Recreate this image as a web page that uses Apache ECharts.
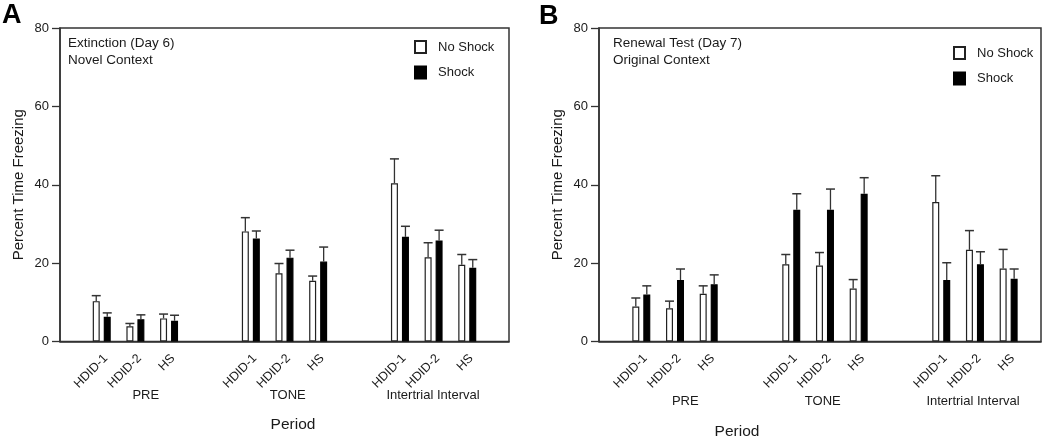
<!DOCTYPE html>
<html>
<head>
<meta charset="utf-8">
<script src="https://cdn.jsdelivr.net/npm/echarts@6/dist/echarts.min.js"></script>
<style>
html,body{margin:0;padding:0;background:#fff;}
#chart{width:1050px;height:441px;}
</style>
</head>
<body>
<div id="chart"></div>
<script>
// ---- data ----
const subgroups = ['HDID-1', 'HDID-2', 'HS'];
const periods = ['PRE', 'TONE', 'Intertrial Interval'];
const seriesNames = ['No Shock', 'Shock'];
const yTicks = [0, 20, 40, 60, 80];

// Panel A: Extinction (Day 6), Novel Context  (order: PRE x3, TONE x3, ITI x3)
const noShockA = [10.3, 3.9, 5.9, 28.1, 17.4, 15.5, 40.4, 21.5, 19.6];
const noShockA_sem = [1.4, 0.7, 1.1, 3.5, 2.5, 1.2, 6.2, 3.7, 2.6];
const shockA = [6.3, 5.7, 5.3, 26.3, 21.4, 20.4, 26.7, 25.8, 18.8];
const shockA_sem = [1.0, 1.1, 1.4, 1.9, 1.9, 3.7, 2.7, 2.6, 2.1];

// Panel B: Renewal Test (Day 7), Original Context
const noShockB = [8.9, 8.5, 12.2, 19.7, 19.4, 13.5, 35.6, 23.4, 18.6];
const noShockB_sem = [2.2, 1.8, 2.0, 2.5, 3.3, 2.3, 6.7, 4.9, 4.9];
const shockB = [12.0, 15.7, 14.6, 33.6, 33.6, 37.7, 15.7, 19.7, 16.0];
const shockB_sem = [2.2, 2.8, 2.4, 4.1, 5.3, 4.1, 4.4, 3.2, 2.5];

const titleA = ['Extinction (Day 6)', 'Novel Context'];
const titleB = ['Renewal Test (Day 7)', 'Original Context'];

// ---- layout ----
const FONT = '"Liberation Sans", Arial, sans-serif';
const INK = '#1a1a1a';
const LINE = '#333';
const BAR_W = 7;
const HALF_OFF = 5.5; // px offset of each bar center from the pair center

const panels = [
  {grid: {left: 60, right: 541, top: 28, bottom: 99.5}, step: 4.43, min: -1.24, max: 12.1,
   noShock: noShockA, noSem: noShockA_sem, shock: shockA, shSem: shockA_sem,
   title: titleA, letter: 'A', letterX: 2, letterY: 2, titleX: 68, legendX: 414, legendY: 40,
   periodX: [145.8, 287.8, 433], periodY: 395, axisTitleX: 293, axisTitleY: 425},
  {grid: {left: 599, right: 9, top: 28, bottom: 99.5}, step: 4.45, min: -1.255, max: 11.86,
   noShock: noShockB, noSem: noShockB_sem, shock: shockB, shSem: shockB_sem,
   title: titleB, letter: 'B', letterX: 539, letterY: 3, titleX: 613, legendX: 953, legendY: 46,
   periodX: [685.3, 822.8, 973], periodY: 401.7, axisTitleX: 737, axisTitleY: 432}
];

function xPos(p, i) {
  const g = Math.floor(i / 3), s = i % 3;
  return g * p.step + s;
}

const chart = echarts.init(document.getElementById('chart'), null, {renderer: 'canvas'});

const grids = [], xAxes = [], yAxes = [], series = [], legends = [];

panels.forEach((p, k) => {
  grids.push(Object.assign({show: true, borderColor: LINE, borderWidth: 1.5, backgroundColor: '#fff'}, p.grid));
  xAxes.push({
    type: 'value', gridIndex: k, min: p.min, max: p.max,
    axisLine: {show: true, onZero: false, lineStyle: {color: LINE, width: 1.5}},
    axisTick: {show: false}, axisLabel: {show: false}, splitLine: {show: false}
  });
  yAxes.push({
    type: 'value', gridIndex: k, min: yTicks[0], max: yTicks[yTicks.length - 1], interval: 20,
    name: 'Percent Time Freezing', nameLocation: 'middle', nameGap: 34,
    nameTextStyle: {fontFamily: FONT, fontSize: 15, color: INK},
    axisLine: {show: true, onZero: false, lineStyle: {color: LINE, width: 1.5}},
    axisTick: {show: true, inside: false, length: 8, lineStyle: {color: LINE, width: 1.3}},
    axisLabel: {margin: 11, fontFamily: FONT, fontSize: 13, color: INK},
    splitLine: {show: false}
  });
  const mk = (vals) => vals.map((v, i) => [xPos(p, i), v]);
  series.push({
    name: seriesNames[0], type: 'bar', xAxisIndex: k, yAxisIndex: k,
    data: mk(p.noShock), barWidth: BAR_W, barGap: '57%',
    itemStyle: {color: '#fff', borderColor: '#222', borderWidth: 1.2},
    emphasis: {disabled: true}, z: 2
  });
  series.push({
    name: seriesNames[1], type: 'bar', xAxisIndex: k, yAxisIndex: k,
    data: mk(p.shock), barWidth: BAR_W, barGap: '57%',
    itemStyle: {color: '#000', borderColor: '#000', borderWidth: 1.2},
    emphasis: {disabled: true}, z: 2
  });
  [[p.noShock, p.noSem, -1], [p.shock, p.shSem, 1]].forEach(([vals, sem, dir]) => {
    series.push({
      type: 'custom', xAxisIndex: k, yAxisIndex: k, z: 3, silent: true,
      data: vals.map((v, i) => [xPos(p, i), v, v + sem[i]]),
      encode: {x: 0, y: [1, 2]},
      renderItem: function (params, api) {
        const base = api.coord([api.value(0), api.value(1)]);
        const top = api.coord([api.value(0), api.value(2)]);
        const cx = base[0] + dir * HALF_OFF;
        return {
          type: 'group',
          children: [
            {type: 'line', shape: {x1: cx, y1: base[1], x2: cx, y2: top[1]},
             style: {stroke: LINE, lineWidth: 1.3}},
            {type: 'line', shape: {x1: cx - 4.5, y1: top[1], x2: cx + 4.5, y2: top[1]},
             style: {stroke: LINE, lineWidth: 1.5}}
          ]
        };
      }
    });
  });
  legends.push({
    data: seriesNames, orient: 'vertical', left: p.legendX, top: p.legendY, padding: 0,
    itemWidth: 11, itemHeight: 12, itemGap: 11.5, selectedMode: false,
    icon: 'rect',
    textStyle: {fontFamily: FONT, fontSize: 13, color: INK, padding: [0, 0, 0, 7]}
  });
});

chart.setOption({
  animation: false,
  backgroundColor: '#fff',
  grid: grids, xAxis: xAxes, yAxis: yAxes, series: series, legend: legends
});

// ---- text graphics placed through the axes ----
const graphics = [];
panels.forEach((p, k) => {
  graphics.push({type: 'text', left: p.letterX, top: p.letterY,
    style: {text: p.letter, font: 'bold 27px ' + FONT, fill: '#000'}});
  graphics.push({type: 'text', x: p.titleX, y: 43, style: {text: p.title[0], font: '13.5px ' + FONT, fill: INK, verticalAlign: 'middle'}});
  graphics.push({type: 'text', x: p.titleX, y: 60.5, style: {text: p.title[1], font: '13.5px ' + FONT, fill: INK, verticalAlign: 'middle'}});
  const axisY = chart.convertToPixel({yAxisIndex: k}, 0);
  for (let i = 0; i < 9; i++) {
    const px = chart.convertToPixel({xAxisIndex: k}, xPos(p, i));
    graphics.push({type: 'text', x: px + 4, y: axisY + 15, rotation: Math.PI / 4,
      style: {text: subgroups[i % 3], font: '12.5px ' + FONT, fill: INK, align: 'right', verticalAlign: 'middle'}});
  }
  periods.forEach((name, g) => {
    graphics.push({type: 'text', x: p.periodX[g], y: p.periodY,
      style: {text: name, font: '13px ' + FONT, fill: INK, align: 'center', verticalAlign: 'middle'}});
  });
  graphics.push({type: 'text', x: p.axisTitleX, y: p.axisTitleY,
    style: {text: 'Period', font: '15.5px ' + FONT, fill: INK, align: 'center', verticalAlign: 'middle'}});
});
chart.setOption({graphic: graphics});
</script>
</body>
</html>
